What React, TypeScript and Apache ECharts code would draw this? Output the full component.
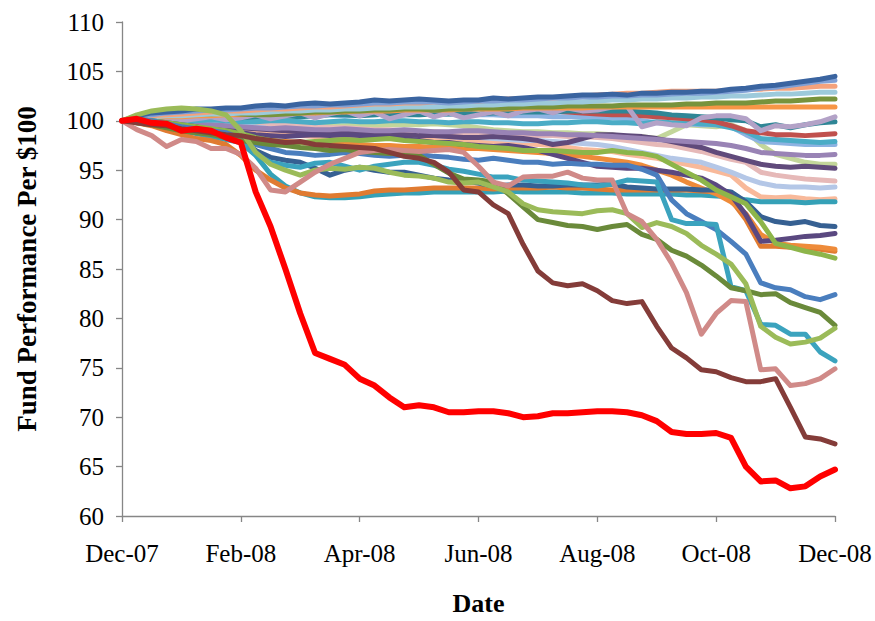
import React, { useEffect, useRef } from "react";
import * as echarts from "echarts";

// x positions: months after Dec-07, sampled every quarter month (0 .. 12)
const MONTH_STEP = 0.25;
const X_TICK_LABELS = ["Dec-07", "Feb-08", "Apr-08", "Jun-08", "Aug-08", "Oct-08", "Dec-08"];
const Y_MIN = 60;
const Y_MAX = 110;
const Y_STEP = 5;

// ---- series values (fund value per $100), one value per quarter month ----
const NAVY = [100, 100.5, 100.8, 100.9, 101.0, 101.2, 101.2, 101.3, 101.3, 101.5, 101.6, 101.5, 101.7, 101.8, 101.7, 101.8, 101.9, 102.1, 102.0, 102.1, 102.2, 102.1, 102.0, 102.1, 102.1, 102.3, 102.2, 102.3, 102.4, 102.4, 102.5, 102.6, 102.6, 102.7, 102.6, 102.8, 102.8, 102.9, 102.9, 103.0, 103.0, 103.2, 103.3, 103.5, 103.6, 103.8, 104.0, 104.2, 104.5];
const STEEL = [100, 100.4, 100.6, 100.8, 100.9, 101.0, 101.1, 101.1, 101.2, 101.3, 101.3, 101.4, 101.5, 101.5, 101.6, 101.6, 101.7, 101.8, 101.8, 101.9, 101.9, 101.9, 101.8, 101.9, 102.0, 102.0, 102.1, 102.1, 102.2, 102.3, 102.3, 102.4, 102.4, 102.5, 102.5, 102.6, 102.6, 102.7, 102.8, 102.8, 102.9, 103.0, 103.1, 103.3, 103.4, 103.6, 103.8, 104.0, 104.1];
const SALMON = [100, 100.3, 100.5, 100.6, 100.7, 100.8, 100.9, 101.0, 101.0, 101.1, 101.2, 101.2, 101.3, 101.4, 101.4, 101.5, 101.6, 101.7, 101.7, 101.8, 101.8, 101.9, 101.9, 102.0, 102.0, 102.1, 102.2, 102.2, 102.3, 102.3, 102.4, 102.5, 102.6, 102.7, 102.8, 102.8, 102.9, 103.0, 103.0, 103.0, 103.0, 103.1, 103.2, 103.2, 103.3, 103.3, 103.4, 103.5, 103.5];
const LIGHT_BLUE = [100, 100.2, 100.4, 100.5, 100.5, 100.6, 100.7, 100.7, 100.8, 100.8, 100.9, 101.0, 101.0, 101.1, 101.1, 101.2, 101.2, 101.3, 101.3, 101.4, 101.4, 101.4, 101.5, 101.5, 101.6, 101.6, 101.7, 101.7, 101.8, 101.8, 101.9, 101.9, 102.0, 102.1, 102.1, 102.2, 102.2, 102.3, 102.3, 102.4, 102.4, 102.5, 102.5, 102.6, 102.7, 102.7, 102.8, 102.9, 102.9];
const OLIVE = [100, 100.3, 100.5, 100.6, 100.6, 100.7, 100.7, 100.8, 100.7, 100.6, 100.6, 100.7, 100.8, 100.9, 100.9, 101.0, 101.0, 101.1, 101.1, 101.2, 101.2, 101.1, 101.2, 101.2, 101.3, 101.3, 101.3, 101.4, 101.4, 101.4, 101.5, 101.5, 101.5, 101.5, 101.6, 101.6, 101.6, 101.6, 101.7, 101.7, 101.8, 101.8, 101.8, 101.9, 102.0, 102.0, 102.1, 102.2, 102.2];
const ORANGE = [100, 100.2, 100.3, 100.4, 100.4, 100.5, 100.5, 100.6, 100.6, 100.7, 100.7, 100.8, 100.8, 100.8, 100.9, 100.9, 101.0, 101.0, 101.0, 101.1, 101.1, 101.1, 101.1, 101.2, 101.2, 101.2, 101.2, 101.3, 101.3, 101.3, 101.3, 101.3, 101.4, 101.4, 101.4, 101.4, 101.4, 101.4, 101.4, 101.4, 101.4, 101.4, 101.4, 101.4, 101.4, 101.4, 101.4, 101.4, 101.4];
const LAVENDER = [100, 100.1, 100.3, 100.2, 100.0, 100.2, 100.4, 100.1, 100.3, 100.6, 100.2, 100.5, 100.8, 100.3, 100.7, 101.0, 100.5, 100.9, 100.2, 100.6, 101.0, 100.4, 100.8, 100.3, 100.6, 100.9, 100.5, 101.0, 101.2, 100.8, 101.3, 101.0, 101.1, 101.4, 101.5, 99.4, 99.8, 99.6, 99.5, 100.3, 100.5, 100.5, 100.2, 99.0, 99.5, 99.4, 99.6, 99.9, 100.4];
const DARK_TEAL = [100, 100.1, 100.2, 100.2, 100.3, 100.3, 100.4, 100.4, 100.3, 100.4, 100.5, 100.5, 100.4, 100.5, 100.6, 100.6, 100.5, 100.6, 100.7, 100.6, 100.6, 100.7, 100.7, 100.8, 100.7, 100.8, 100.8, 100.9, 100.9, 100.9, 101.0, 101.0, 101.0, 101.0, 101.0, 100.9, 100.8, 100.6, 100.5, 100.4, 100.3, 100.1, 100.0, 99.4, 99.6, 99.3, 99.6, 99.8, 99.9];
const BRICK = [100, 100.2, 100.4, 100.5, 100.6, 100.7, 100.8, 100.8, 100.9, 101.0, 101.0, 101.1, 101.1, 101.2, 101.2, 101.3, 101.3, 101.3, 101.2, 101.3, 101.4, 101.3, 101.3, 101.4, 101.5, 101.4, 101.3, 101.2, 101.1, 101.0, 100.9, 100.8, 100.7, 100.6, 100.6, 100.5, 100.4, 100.3, 100.2, 100.1, 99.9, 99.5, 99.0, 98.8, 98.6, 98.6, 98.5, 98.6, 98.7];
const AQUA = [100, 100.0, 100.1, 100.0, 99.9, 100.0, 100.1, 100.0, 99.9, 99.9, 100.0, 100.0, 99.9, 99.8, 99.9, 100.0, 99.9, 99.9, 100.0, 100.0, 99.9, 99.9, 99.8, 99.9, 99.9, 99.8, 99.8, 99.7, 99.7, 99.8, 99.8, 99.9, 99.9, 99.8, 99.8, 99.7, 99.9, 99.8, 99.8, 99.7, 99.6, 99.3, 98.9, 98.2, 98.1, 98.0, 97.9, 97.8, 97.9];
const LIGHT_STEEL = [100, 100.1, 100.2, 100.2, 100.3, 100.3, 100.2, 100.3, 100.4, 100.4, 100.5, 100.5, 100.5, 100.6, 100.6, 100.5, 100.6, 100.6, 100.7, 100.7, 100.6, 100.7, 100.7, 100.6, 100.6, 100.6, 100.5, 100.5, 100.5, 100.4, 100.4, 100.4, 100.3, 100.3, 100.2, 100.0, 99.8, 99.7, 99.7, 99.6, 99.6, 99.4, 98.6, 97.9, 97.8, 97.7, 97.6, 97.6, 97.6];
const PURPLE = [100, 99.9, 99.8, 99.8, 99.7, 99.6, 99.6, 99.5, 99.4, 99.3, 99.2, 99.3, 99.2, 99.1, 99.1, 99.2, 99.1, 99.0, 99.0, 99.1, 99.0, 98.9, 98.9, 99.0, 99.0, 98.9, 98.8, 98.8, 98.7, 98.7, 98.6, 98.6, 98.5, 98.4, 98.3, 98.2, 98.1, 98.0, 97.9, 97.8, 97.7, 97.5, 97.2, 96.8, 96.7, 96.6, 96.5, 96.5, 96.6];
const PALE_GREEN = [100, 100.1, 100.0, 99.9, 99.9, 99.8, 99.8, 99.7, 99.6, 99.6, 99.5, 99.5, 99.4, 99.4, 99.5, 99.5, 99.6, 99.5, 99.6, 99.6, 99.6, 99.7, 99.6, 99.5, 99.3, 99.1, 99.0, 98.9, 98.9, 98.8, 98.8, 98.7, 98.7, 98.6, 98.3, 98.4, 98.2, 98.9, 99.6, 99.5, 99.4, 99.6, 99.0, 97.6, 96.6, 96.2, 95.8, 95.6, 95.6];
const PLUM = [100, 99.9, 99.8, 99.7, 99.6, 99.6, 99.5, 99.4, 99.3, 99.2, 99.1, 99.0, 98.9, 98.9, 98.8, 98.8, 98.7, 98.7, 98.6, 98.6, 98.5, 98.5, 98.4, 98.3, 98.3, 98.4, 98.3, 98.2, 98.0, 97.6, 97.8, 98.2, 98.6, 98.6, 98.5, 98.4, 98.2, 97.9, 97.6, 97.3, 96.8, 96.4, 96.0, 95.6, 95.4, 95.3, 95.4, 95.3, 95.2];
const LIGHT_PINK = [100, 100.2, 100.3, 100.4, 100.3, 100.3, 100.2, 100.1, 100.0, 99.9, 99.7, 99.6, 99.5, 99.4, 99.3, 99.3, 99.2, 99.1, 99.1, 99.0, 98.9, 98.9, 98.8, 98.8, 98.7, 98.7, 98.6, 98.6, 98.5, 98.5, 98.4, 98.4, 98.3, 98.2, 98.0, 97.8, 97.6, 97.5, 97.2, 96.9, 96.5, 96.1, 95.8, 94.8, 94.5, 94.3, 94.1, 94.0, 93.9];
const PALE_LAVENDER = [100, 100.1, 100.1, 100.0, 99.9, 99.8, 99.7, 99.6, 99.5, 99.4, 99.3, 99.2, 99.1, 99.0, 98.9, 98.9, 98.8, 98.7, 98.7, 98.6, 98.5, 98.5, 98.4, 98.3, 98.3, 98.2, 98.1, 98.0, 98.0, 97.9, 97.8, 97.7, 97.6, 97.4, 97.1, 96.8, 96.5, 96.2, 96.0, 95.8, 95.3, 94.8, 94.2, 93.7, 93.4, 93.3, 93.3, 93.2, 93.3];
const PEACH = [100, 100.3, 100.2, 100.0, 99.8, 99.6, 99.4, 99.3, 99.1, 98.9, 98.7, 98.6, 98.5, 98.4, 98.4, 98.3, 98.3, 98.2, 98.2, 98.1, 98.1, 98.0, 98.0, 97.9, 97.9, 97.8, 97.8, 97.7, 97.6, 97.5, 97.3, 97.1, 97.0, 96.9, 96.6, 96.4, 96.2, 95.9, 95.6, 95.3, 94.9, 94.5, 93.2, 92.3, 92.2, 92.3, 92.1, 92.0, 92.1];
const TEAL = [100, 99.8, 99.6, 99.3, 99.0, 98.7, 98.4, 98.1, 97.8, 96.5, 94.6, 93.4, 92.7, 92.3, 92.2, 92.2, 92.3, 92.5, 92.6, 92.7, 92.7, 92.8, 92.8, 92.8, 92.8, 92.8, 92.9, 92.8, 92.8, 92.8, 92.8, 92.7, 92.7, 92.7, 92.6, 92.6, 92.6, 92.6, 92.5, 92.5, 92.4, 92.3, 92.0, 91.8, 91.8, 91.8, 91.7, 91.8, 91.8];
const DEEP_ORANGE = [100, 99.8, 99.5, 99.0, 98.6, 98.2, 98.0, 97.6, 96.5, 95.0, 94.0, 93.2, 92.7, 92.5, 92.4, 92.5, 92.6, 92.9, 93.0, 93.0, 93.1, 93.2, 93.2, 93.2, 93.2, 93.1, 93.2, 93.2, 93.2, 93.3, 93.2, 93.2, 93.1, 93.0, 93.0, 93.0, 93.0, 93.0, 93.0, 92.9, 92.8, 92.0, 90.0, 87.3, 87.3, 87.2, 87.2, 87.0, 86.8];
const AMBER = [100, 99.9, 99.7, 99.5, 99.2, 99.0, 98.8, 98.6, 98.4, 98.2, 98.0, 97.9, 97.8, 97.7, 97.7, 97.6, 97.6, 97.5, 97.5, 97.4, 97.4, 97.3, 97.3, 97.2, 97.2, 97.1, 97.0, 96.9, 96.8, 96.7, 96.5, 96.4, 96.2, 96.0, 95.8, 95.5, 95.0, 94.5, 93.8, 93.2, 92.6, 91.8, 90.6, 88.5, 87.6, 87.4, 87.3, 87.2, 87.0];
const GRASS = [100, 100.1, 100.0, 99.8, 99.6, 99.4, 99.2, 99.0, 98.7, 98.3, 98.0, 97.8, 97.8, 97.9, 98.0, 98.1, 98.0, 98.1, 98.2, 98.0, 97.9, 97.8, 97.7, 97.6, 97.4, 97.3, 97.2, 97.0, 97.0, 97.0, 96.9, 96.8, 96.8, 97.0, 96.8, 96.7, 96.4, 95.6, 94.8, 94.0, 93.0, 92.3, 91.6, 89.8, 87.6, 87.2, 86.8, 86.5, 86.1];
const DARK_BLUE = [100, 100.1, 100.0, 99.8, 99.6, 99.4, 99.0, 98.6, 98.0, 97.0, 96.3, 96.0, 95.8, 95.2, 94.5, 95.0, 95.3, 95.0, 94.8, 94.8, 94.5, 94.2, 94.0, 93.9, 93.7, 93.4, 93.5, 93.5, 93.4, 93.4, 93.5, 93.5, 93.5, 93.6, 93.3, 93.2, 93.1, 93.1, 93.1, 93.0, 93.0, 92.8, 91.8, 90.3, 89.8, 89.6, 89.8, 89.4, 89.3];
const INDIGO = [100, 100.0, 99.8, 99.6, 99.5, 99.3, 99.1, 99.0, 98.8, 98.6, 98.5, 98.4, 98.5, 98.6, 98.5, 98.6, 98.5, 98.4, 98.3, 98.2, 98.0, 97.8, 97.8, 97.6, 97.5, 97.4, 97.5, 97.3, 97.0, 96.6, 96.2, 95.8, 95.4, 95.3, 95.2, 95.2, 95.0, 94.8, 94.5, 94.2, 93.5, 92.5, 90.5, 87.8, 87.9, 88.1, 88.3, 88.4, 88.6];
const MID_BLUE = [100, 100.1, 100.0, 99.7, 99.4, 99.2, 99.0, 98.8, 98.2, 97.6, 97.2, 96.8, 96.7, 96.5, 96.6, 96.8, 96.7, 96.5, 96.4, 96.5, 96.6, 96.4, 96.3, 96.1, 96.0, 96.2, 96.0, 95.8, 95.8, 95.6, 95.7, 95.6, 95.6, 95.5, 95.5, 95.1, 94.5, 92.0, 90.6, 89.8, 89.0, 87.8, 86.5, 83.6, 83.1, 82.9, 82.2, 81.9, 82.4];
const CYAN = [100, 100.1, 99.9, 99.6, 99.2, 98.8, 98.6, 98.4, 97.8, 96.6, 95.8, 95.5, 95.3, 95.7, 95.8, 95.4, 95.0, 95.4, 95.6, 95.8, 95.8, 95.5, 95.1, 94.9, 94.6, 94.3, 94.3, 94.0, 93.9, 93.8, 93.7, 93.5, 93.4, 93.6, 94.0, 93.9, 93.8, 90.0, 89.6, 89.6, 89.5, 83.2, 82.8, 79.4, 79.3, 78.4, 78.4, 76.6, 75.7];
const MOSS = [100, 99.8, 99.6, 99.3, 99.0, 98.8, 98.6, 98.3, 98.0, 97.8, 97.6, 97.5, 97.3, 97.2, 97.0, 97.1, 96.9, 96.8, 96.7, 96.8, 96.5, 95.6, 94.7, 94.1, 94.0, 93.8, 92.6, 91.3, 90.0, 89.7, 89.4, 89.3, 89.0, 89.3, 89.5, 88.5, 88.0, 86.9, 86.3, 85.4, 84.3, 83.1, 82.8, 82.4, 82.5, 81.6, 81.1, 80.6, 79.3];
const LIME = [100, 100.6, 101.0, 101.2, 101.3, 101.2, 101.0, 100.6, 99.0, 96.8, 95.6, 95.0, 94.5, 95.0, 95.2, 95.1, 95.3, 95.2, 94.8, 94.5, 94.4, 94.2, 93.8, 93.7, 93.8, 93.3, 92.8, 91.6, 91.0, 90.8, 90.7, 90.6, 90.9, 91.0, 90.6, 89.2, 89.7, 89.3, 88.6, 87.4, 86.5, 85.5, 83.5, 79.2, 78.1, 77.4, 77.6, 78.0, 79.0];
const ROSE = [100, 99.1, 98.5, 97.4, 98.1, 97.9, 97.2, 97.2, 96.6, 95.2, 93.0, 92.8, 93.8, 94.8, 95.6, 96.2, 96.8, 97.0, 97.1, 97.0, 96.9, 97.0, 97.1, 96.8, 95.4, 93.8, 93.4, 94.3, 94.4, 94.4, 94.8, 94.2, 94.0, 94.0, 90.6, 89.8, 88.0, 85.6, 82.6, 78.4, 80.5, 81.8, 81.7, 74.8, 74.9, 73.2, 73.4, 73.9, 74.9];
const MAROON = [100, 99.8, 99.6, 99.5, 99.2, 99.0, 98.8, 98.6, 98.5, 98.2, 98.0, 97.8, 97.9, 97.6, 97.5, 97.4, 97.3, 97.2, 96.8, 96.4, 96.2, 95.8, 94.8, 93.0, 92.8, 91.5, 90.6, 87.5, 84.8, 83.6, 83.3, 83.5, 82.8, 81.8, 81.5, 81.7, 79.2, 77.0, 76.0, 74.8, 74.6, 74.0, 73.6, 73.6, 73.9, 71.0, 68.0, 67.8, 67.3];
const RED = [100, 100.2, 99.8, 99.7, 99.0, 99.2, 99.0, 98.3, 97.8, 92.8, 89.3, 85.0, 80.5, 76.5, 75.9, 75.3, 73.9, 73.2, 72.0, 71.0, 71.2, 71.0, 70.5, 70.5, 70.6, 70.6, 70.4, 70.0, 70.1, 70.4, 70.4, 70.5, 70.6, 70.6, 70.5, 70.2, 69.6, 68.5, 68.3, 68.3, 68.4, 67.9, 65.0, 63.5, 63.6, 62.8, 63.0, 64.0, 64.7];

// drawing order: first is drawn underneath
const SERIES_DEFS = [
  { name: "Fund A", values: PALE_GREEN, color: "#C3D69B" },
  { name: "Fund B", values: PEACH, color: "#F8B99A" },
  { name: "Fund C", values: PALE_LAVENDER, color: "#B4C7E7" },
  { name: "Fund D", values: LIGHT_PINK, color: "#E6B9B8" },
  { name: "Fund E", values: PLUM, color: "#604A7B" },
  { name: "Fund F", values: PURPLE, color: "#9983B5" },
  { name: "Fund G", values: LIGHT_STEEL, color: "#8DB3E2" },
  { name: "Fund H", values: AQUA, color: "#4BACC6" },
  { name: "Fund I", values: BRICK, color: "#C0504D" },
  { name: "Fund J", values: DARK_TEAL, color: "#2F8696" },
  { name: "Fund K", values: LAVENDER, color: "#B3A2C7" },
  { name: "Fund L", values: ORANGE, color: "#F79646" },
  { name: "Fund M", values: OLIVE, color: "#77933C" },
  { name: "Fund N", values: LIGHT_BLUE, color: "#9DCADB" },
  { name: "Fund O", values: SALMON, color: "#F4A27C" },
  { name: "Fund P", values: STEEL, color: "#7F9FD4" },
  { name: "Fund Q", values: NAVY, color: "#3A64A0" },
  { name: "Fund R", values: TEAL, color: "#35A1B7" },
  { name: "Fund S", values: DEEP_ORANGE, color: "#E07B31" },
  { name: "Fund T", values: AMBER, color: "#EE8B3A" },
  { name: "Fund U", values: DARK_BLUE, color: "#366092" },
  { name: "Fund V", values: INDIGO, color: "#5A4880" },
  { name: "Fund W", values: GRASS, color: "#8DB54A" },
  { name: "Fund X", values: MID_BLUE, color: "#4A7EBE" },
  { name: "Fund Y", values: CYAN, color: "#3BA3BE" },
  { name: "Fund Z", values: MOSS, color: "#6A8A3A" },
  { name: "Fund AA", values: LIME, color: "#9BBB59" },
  { name: "Fund AB", values: ROSE, color: "#D08A88" },
  { name: "Fund AC", values: MAROON, color: "#843C39" },
  { name: "Fund AD", values: RED, color: "#FF0000" },
];

const SERIF = "'Liberation Serif', 'Times New Roman', serif";
const AXIS_GREY = "#868686";

export default function App() {
  const ref = useRef<HTMLDivElement>(null);

  useEffect(() => {
    if (!ref.current) return;
    const chart = echarts.init(ref.current, null, { renderer: "svg" });
    chart.setOption({
      animation: false,
      backgroundColor: "#ffffff",
      grid: { left: 122, top: 22, width: 713, height: 498 },
      xAxis: {
        type: "value",
        min: 0,
        max: 12,
        interval: 2,
        name: "Date",
        nameLocation: "middle",
        nameGap: 74,
        nameTextStyle: { fontFamily: SERIF, fontWeight: "bold", fontSize: 26, color: "#000" },
        axisLine: { show: true, onZero: false, lineStyle: { color: AXIS_GREY, width: 1.3 } },
        axisTick: { show: true, inside: false, length: 6, lineStyle: { color: AXIS_GREY, width: 1.3 } },
        splitLine: { show: false },
        axisLabel: {
          fontFamily: SERIF,
          fontSize: 25,
          color: "#000",
          margin: 25,
          formatter: (v: number) => X_TICK_LABELS[Math.round(v / 2)] ?? "",
        },
      },
      yAxis: {
        type: "value",
        min: Y_MIN,
        max: Y_MAX,
        interval: Y_STEP,
        name: "Fund Performance Per $100",
        nameLocation: "middle",
        nameRotate: 90,
        nameGap: 82,
        nameTextStyle: { fontFamily: SERIF, fontWeight: "bold", fontSize: 27, color: "#000" },
        axisLine: { show: true, lineStyle: { color: AXIS_GREY, width: 1.3 } },
        axisTick: { show: true, inside: false, length: 6, lineStyle: { color: AXIS_GREY, width: 1.3 } },
        splitLine: { show: false },
        axisLabel: { fontFamily: SERIF, fontSize: 25, color: "#000", margin: 18 },
      },
      series: SERIES_DEFS.map((d) => ({
        type: "line",
        name: d.name,
        data: d.values.map((v, i) => [i * MONTH_STEP, v]),
        showSymbol: false,
        symbol: "none",
        silent: true,
        emphasis: { disabled: true },
        itemStyle: { color: d.color },
        lineStyle: {
          color: d.color,
          width: d.color === "#FF0000" ? 6 : 5,
          join: "round",
          cap: "round",
        },
      })),
    });
    return () => chart.dispose();
  }, []);

  return (
    <div
      ref={ref}
      style={{ position: "fixed", left: 0, top: 0, width: 875, height: 621, background: "#fff" }}
    />
  );
}
